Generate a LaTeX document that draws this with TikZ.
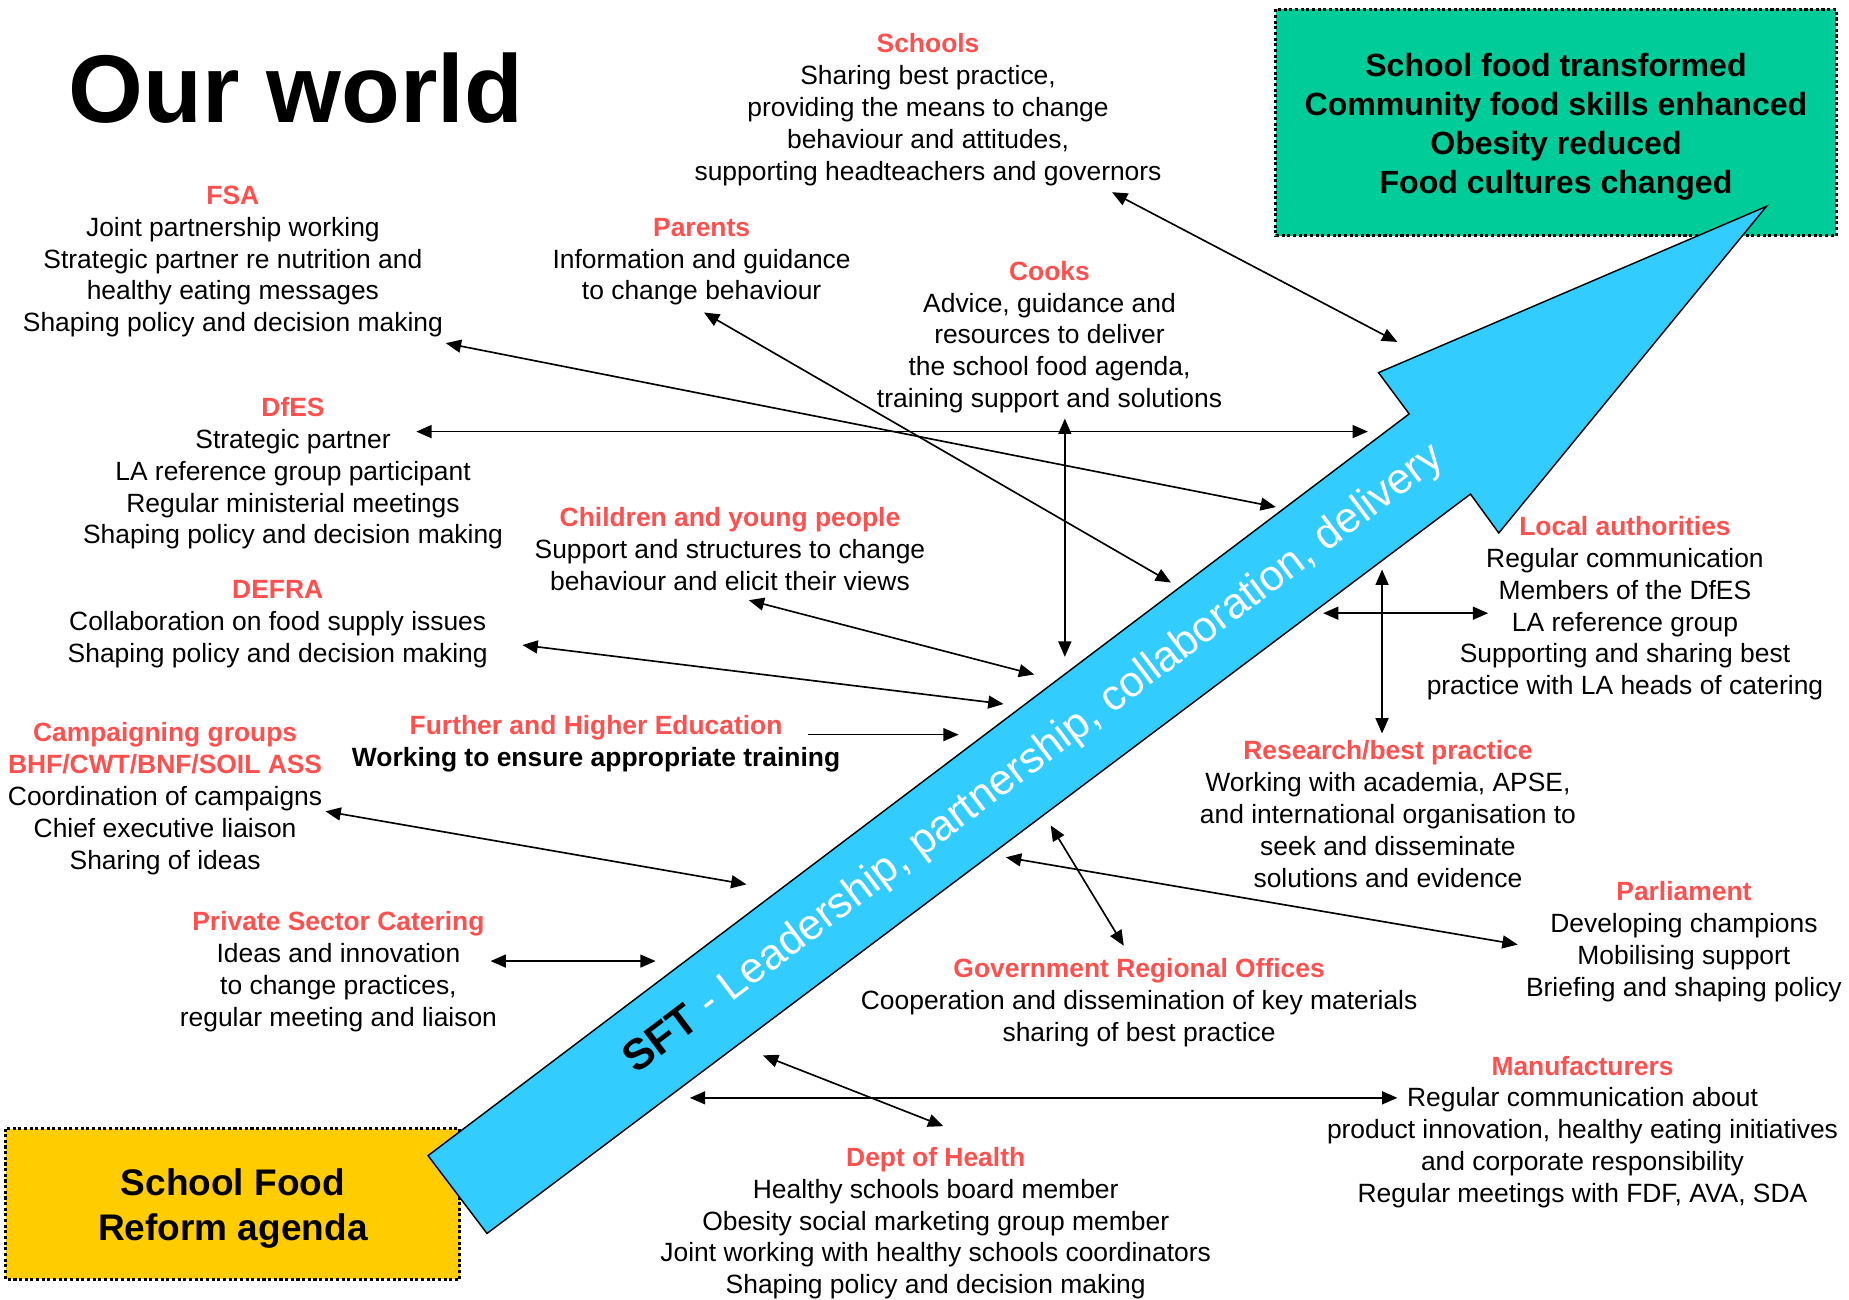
\documentclass[tikz,border=0pt]{standalone}
\usepackage{fontspec}
\setmainfont{Liberation Sans}
\usetikzlibrary{arrows.meta}
\definecolor{hdred}{RGB}{255,80,80}
\definecolor{boxgreen}{RGB}{0,204,153}
\definecolor{boxyellow}{RGB}{255,204,0}
\definecolor{arrowcyan}{RGB}{51,204,255}
\newcommand{\hd}[1]{{\bfseries\color{hdred}#1}}
\tikzset{
  blk/.style={align=center, inner sep=0pt, yshift=-1.2pt, font=\fontsize{11.2}{13.5}\selectfont},
  conn/.style={line width=0.7pt, -{Triangle[length=6.5pt,width=5.5pt]}},
  dbl/.style={line width=0.7pt, {Triangle[length=6.5pt,width=5.5pt]}-{Triangle[length=6.5pt,width=5.5pt]}},
  goalbox/.style={draw=black, line width=1.3pt, dash pattern=on 1.3pt off 1.1pt, inner sep=0pt},
}
\begin{document}
\begin{tikzpicture}[x=0.5pt,y=-0.5pt]
\useasboundingbox (0,0) rectangle (1568,1102);

% title
\node[anchor=base west, inner sep=0pt, font=\fontsize{40.8}{48}\selectfont\bfseries] (title) at (58,104) {Our world};

% goal boxes
\path[goalbox, fill=boxgreen] (1082,8) rectangle (1557,200);
\node[align=center, inner sep=0pt, font=\fontsize{13.6}{16.5}\selectfont\bfseries] (goal) at (1319.5,107.5)
  {School food transformed\\Community food skills enhanced\\Obesity reduced\\Food cultures changed};
\path[goalbox, fill=boxyellow] (5,957) rectangle (390,1085);
\node[align=center, inner sep=0pt, font=\fontsize{15.7}{19}\selectfont\bfseries] (agenda) at (197.5,1024.5)
  {School Food\\Reform agenda};

% big arrow
\draw[fill=arrowcyan, line width=0.6pt, line join=miter]
  (363,980) -- (1195,351) -- (1169,316) -- (1498,175) -- (1271,452) -- (1247,419) -- (413,1046) -- cycle;
\node[rotate=37.1, inner sep=0pt, font=\fontsize{18.3}{20}\selectfont] (sft) at (877,644)
  {{\bfseries SFT}\ \textcolor{white}{- Leadership, partnership, collaboration, delivery}};

% text blocks
\node[blk] (schools) at (787,90.5) {\hd{Schools}\\Sharing best practice,\\providing the means to change\\behaviour and attitudes,\\supporting headteachers and governors};
\node[blk] (fsa) at (197.5,219.5) {\hd{FSA}\\Joint partnership working\\Strategic partner re nutrition and\\healthy eating messages\\Shaping policy and decision making};
\node[blk] (parents) at (595,219.5) {\hd{Parents}\\Information and guidance\\to change behaviour};
\node[blk] (cooks) at (890,283.5) {\hd{Cooks}\\Advice, guidance and\\resources to deliver\\the school food agenda,\\training support and solutions};
\node[blk] (dfes) at (248.5,399) {\hd{DfES}\\Strategic partner\\LA reference group participant\\Regular ministerial meetings\\Shaping policy and decision making};
\node[blk] (children) at (619,463) {\hd{Children and young people}\\Support and structures to change\\behaviour and elicit their views};
\node[blk] (defra) at (235.5,527) {\hd{DEFRA}\\Collaboration on food supply issues\\Shaping policy and decision making};
\node[blk] (campaign) at (140,675) {\hd{Campaigning groups}\\\hd{BHF/CWT/BNF/SOIL ASS}\\Coordination of campaigns\\Chief executive liaison\\Sharing of ideas};
\node[blk] (further) at (505.5,628.5) {\hd{Further and Higher Education}\\\textbf{Working to ensure appropriate training}};
\node[blk] (private) at (287,821.5) {\hd{Private Sector Catering}\\Ideas and innovation\\to change practices,\\regular meeting and liaison};
\node[blk] (local) at (1378,513.5) {\hd{Local authorities}\\Regular communication\\Members of the DfES\\LA reference group\\Supporting and sharing best\\practice with LA heads of catering};
\node[blk] (research) at (1177,688) {\hd{Research/best practice}\\Working with academia, APSE,\\and international organisation to\\seek and disseminate\\solutions and evidence};
\node[blk] (parliament) at (1428,796) {\hd{Parliament}\\Developing champions\\Mobilising support\\Briefing and shaping policy};
\node[blk] (gro) at (966,848) {\hd{Government Regional Offices}\\Cooperation and dissemination of key materials\\sharing of best practice};
\node[blk] (manuf) at (1342,957.5) {\hd{Manufacturers}\\Regular communication about\\product innovation, healthy eating initiatives\\and corporate responsibility\\Regular meetings with FDF, AVA, SDA};
\node[blk] (health) at (793.5,1035) {\hd{Dept of Health}\\Healthy schools board member\\Obesity social marketing group member\\Joint working with healthy schools coordinators\\Shaping policy and decision making};

% connector end points
\coordinate (schoolsA) at (943,163);  \coordinate (schoolsB) at (1185,290);
\coordinate (fsaA) at (378,291);      \coordinate (fsaB) at (1082,430);
\coordinate (parentsA) at (597,265);  \coordinate (parentsB) at (993,494);
\coordinate (dfesA) at (353,366);     \coordinate (dfesB) at (1160,366);
\coordinate (cooksA) at (903,355);    \coordinate (cooksB) at (903,557);
\coordinate (childA) at (635,509);    \coordinate (childB) at (877,572);
\coordinate (defraA) at (443,547);    \coordinate (defraB) at (851,597);
\coordinate (furtherA) at (685,623);  \coordinate (furtherB) at (813,623);
\coordinate (campA) at (276,688);     \coordinate (campB) at (633,750);
\coordinate (privA) at (416,815);     \coordinate (privB) at (556,815);
\coordinate (localA) at (1122,520);   \coordinate (localB) at (1262,520);
\coordinate (resA) at (1172,483);     \coordinate (resB) at (1172,622);
\coordinate (groA) at (891,700);      \coordinate (groB) at (953,802);
\coordinate (parlA) at (853,727);     \coordinate (parlB) at (1287,801);
\coordinate (manA) at (585,931);      \coordinate (manB) at (1185,931);
\coordinate (healthA) at (647,895);   \coordinate (healthB) at (800,955);

% connectors
\draw[dbl] (schoolsA) -- (schoolsB);
\draw[dbl] (fsaA) -- (fsaB);
\draw[dbl] (parentsA) -- (parentsB);
\draw[dbl] (dfesA) -- (dfesB);
\draw[dbl] (cooksA) -- (cooksB);
\draw[dbl] (childA) -- (childB);
\draw[dbl] (defraA) -- (defraB);
\draw[conn] (furtherA) -- (furtherB);
\draw[dbl] (campA) -- (campB);
\draw[dbl] (privA) -- (privB);
\draw[dbl] (localA) -- (localB);
\draw[dbl] (resA) -- (resB);
\draw[dbl] (groA) -- (groB);
\draw[dbl] (parlA) -- (parlB);
\draw[dbl] (manA) -- (manB);
\draw[dbl] (healthA) -- (healthB);
\end{tikzpicture}
\end{document}
